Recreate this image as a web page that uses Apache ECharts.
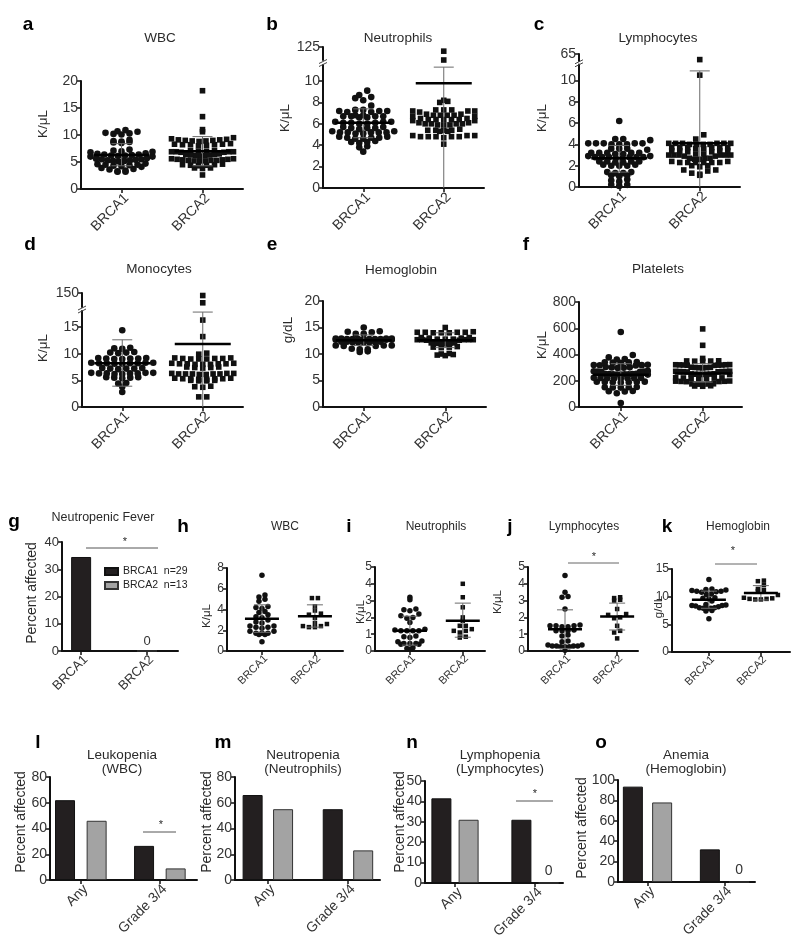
<!DOCTYPE html>
<html><head><meta charset="utf-8">
<script src="https://cdn.jsdelivr.net/npm/echarts@6/dist/echarts.min.js"></script>
<style>html,body{margin:0;padding:0;background:#fff}#c{width:800px;height:945px}</style>
</head><body><div id="c"></div>
<script>
// ---------------- DATA ----------------
const categories = ['BRCA1', 'BRCA2'];
const toxCategories = ['Any', 'Grade 3/4'];

// a: WBC (K/uL)
const wbc_brca1 = [10.9,10.7,10.6,10.4,10.3,10.1,10.2, 9.1,8.9,8.7,8.6,8.5,8.8, 7.3,7.1,7.0,6.9,6.8,
  6.6,6.5,6.4,6.4,6.3,6.2,6.2,6.1,6.0,6.0, 5.7,5.6,5.5,5.5,5.4,5.3,5.3,5.2,5.2,5.1,
  4.7,4.6,4.5,4.5,4.4,4.3,4.2,4.1, 3.9,3.7,3.6,3.4,3.3,3.2,3.2];
const wbc_brca2 = [18.2,13.4,11.0,10.6,9.5, 9.2,9.1,9.0,9.0,8.9,8.8,8.9,9.1,9.3, 8.3,8.2,8.2,8.1,8.0,8.3,8.4,8.2,
  7.1,7.0,6.9,6.9,6.8,6.9,7.0,7.1,6.8,6.9, 6.4,6.3,6.2,6.3,6.4,6.2,6.1,6.5,
  5.6,5.5,5.4,5.3,5.3,5.2,5.2,5.3,5.4,5.5,5.6,5.2, 4.6,4.5,4.4,4.4,4.3,4.5, 3.9,3.8,3.9, 2.6];
const wbc_mean = [6.3, 7.0];
const wbc_sd = [[4.3, 8.4], [4.3, 9.7]];

// b: Neutrophils
const neut_brca1 = [9.1,8.7,8.5,8.4,8.2,7.7, 7.3,7.2,7.2,7.1,7.2,7.3,7.1, 6.8,6.7,6.7,6.6,6.7,6.8,6.6,6.7,
  6.2,6.1,6.0,6.1,6.2,6.0,6.1,6.2, 5.6,5.7,5.5,5.6,5.7,5.6, 5.2,5.2,5.1,5.3,5.2,5.1,5.2,5.3,5.2,
  4.8,4.7,4.6,4.7,4.8,4.6,4.7, 4.3,4.3,4.2,4.4, 3.9,3.8, 3.4];
const neut_brca2 = [117,100, 8.2,8.1,8.0, 7.3,7.3,7.2,7.2,7.1,7.3,7.2, 6.9,6.8,6.8,6.7,6.8,6.9,6.7,6.8,
  6.4,6.5,6.4,6.3,6.4,6.5,6.4,6.3,6.4, 6.0,6.1,6.0,5.9,6.0,6.1,5.9,6.0,5.9, 5.4,5.3,5.4,5.5,5.4,5.3,5.4,
  4.9,4.8,4.8,4.9,4.8,4.7,4.9,4.8,4.8, 4.1];
const neut_mean = [6.1, 9.8];
const neut_sd = [[4.7, 7.4], [0, 11.3]];

// c: Lymphocytes
const lymph_brca1 = [6.2,4.5,4.5,4.4, 4.1,4.1,4.0,4.1,4.0,4.1,4.0,4.1, 3.6,3.6,3.5,3.6, 3.2,3.2,3.1,3.2,3.1,3.2,3.2,
  2.8,2.8,2.9,2.8,2.7,2.8,2.9,2.8,2.7,2.8, 2.4,2.4,2.3,2.4,2.3,2.4, 2.0,2.0,2.1,2.0,2.1,
  1.4,1.3,1.3,1.4, 1.1,1.0,1.1, 0.7,0.6,0.5, 0.2,0.1,0.2];
const lymph_brca2 = [53,10.5,4.9,4.5, 4.1,4.1,4.0,4.1,4.0,4.1,4.0,4.1,4.1,4.0, 3.7,3.7,3.6,3.7,3.7,3.6,3.7,3.7,
  3.4,3.3,3.4,3.4,3.3,3.4, 3.0,3.0,3.1,3.0,2.9,3.0,3.1,3.0,2.9,3.0, 2.7,2.6,2.7,2.6,2.7,
  2.3,2.3,2.4,2.3,2.3,2.4,2.3,2.3, 2.0,2.0,1.9, 1.6,1.5,1.6, 1.3,1.2, 1.1];
const lymph_mean = [2.7, 4.1];
const lymph_sd = [[1.4, 3.9], [0, 10.9]];

// d: Monocytes
const mono_brca1 = [14.4, 11.1,11.0,10.9, 10.3,10.2,10.2,10.1, 9.2,9.1,9.0,9.1,9.2,9.0,9.1,
  8.3,8.2,8.2,8.1,8.3,8.2,8.2,8.1,8.3, 7.3,7.2,7.2,7.1,7.3,7.2, 6.4,6.3,6.3,6.2,6.4,6.3,6.3,6.2,6.4,
  5.6,5.5,5.5,5.4,5.6, 4.5,4.4, 3.8, 2.8];
const mono_brca2 = [141,115,16.3,13.2,10.1,9.9, 9.2,9.1,9.0,9.1,9.2,9.0,9.1,9.0, 8.1,8.0,8.1,8.2,8.0,8.1,8.2,8.0,8.1,
  7.5,7.4,7.3,7.4,7.5, 6.3,6.2,6.2,6.1,6.3,6.2,6.1,6.2,6.3,6.2, 5.4,5.3,5.3,5.2,5.3,5.4,5.2,5.3,
  5.0,4.9,5.0,4.9, 3.8,3.9,3.7, 1.9,1.9];
const mono_mean = [8.2, 11.8];
const mono_sd = [[3.9, 12.6], [0, 17.8]];

// e: Hemoglobin (g/dL)
const hgb_brca1 = [15.0,14.3,14.2,14.1,13.8,13.8, 12.9,12.8,12.9,12.8,12.7,12.8,12.9,12.8,12.7,12.8,12.9,12.8,12.7,12.8,
  12.3,12.2,12.3,12.2,12.3,12.2,12.3,12.2, 11.6,11.5,11.6,11.5,11.6, 10.9,10.9,11.0, 10.5,10.4];
const hgb_brca2 = [15.0,14.1,14.1,14.0,14.1,14.0,14.1,14.2,14.0, 13.0,13.1,13.0,13.1,
  12.7,12.8,12.7,12.6,12.7,12.8,12.7,12.6,12.8,12.7, 12.0,12.1,12.0,11.9,12.0,12.1,
  11.3,11.4,11.3,11.2, 10.0,9.9,10.1, 9.8,9.7];
const hgb_mean = [12.6, 12.6];
const hgb_sd = [[11.6, 13.6], [11.2, 14.0]];

// f: Platelets
const plt_brca1 = [572,396,378,365,362, 340,342,338,336,341, 318,320,316,319,322, 300,302,298,301,305,
  272,270,268,275,271,269, 252,250,248,251,249,253,247,250,252,248, 222,220,218,221,219,223,217,220,
  192,190,188,191,189,193,187, 152,150,148,151,149, 122,120,118, 105, 30];
const plt_brca2 = [595,470,370, 352,350,348,351,349, 322,320,318,321,319,323,317,320,322, 302,300,298,301,299,303,
  272,270,268,271,269,273,267,270, 252,250,248,251,249,253,247,250, 222,220,218,221,219,223,217,
  197,195,193,196,194,198, 177,175,173,176,174, 162,160,158];
const plt_mean = [245, 255];
const plt_sd = [[165, 330], [190, 330]];

// g: Neutropenic fever (%)
const fever_pct = [34.5, 0];
const fever_n = [29, 13];

// h-k: on-treatment nadir values
const txwbc_brca1 = [7.3,5.4,5.2,5.0,4.8,4.3,4.2,4.1,3.8,3.7,3.5,3.3,3.2,3.0,2.8,2.7,2.4,2.4,2.3,2.3,2.2,1.9,1.9,1.7,1.7,1.7,1.6,1.6,0.9];
const txwbc_brca2 = [5.1,5.1,4.3,3.9,3.6,3.5,3.2,2.7,2.6,2.4,2.4,2.3,2.3];
const txwbc_mean = [3.1, 3.35];
const txwbc_sd = [[1.8, 4.45], [2.3, 4.45]];

const txneut_brca1 = [3.2,3.05,2.5,2.45,2.4,2.2,2.1,2.0,1.95,1.7,1.3,1.25,1.2,1.2,1.2,1.2,0.9,0.85,0.8,0.6,0.55,0.45,0.45,0.45,0.4,0.4,0.2,0.15,0.1];
const txneut_brca2 = [4.0,3.2,2.6,2.0,1.8,1.5,1.5,1.3,1.2,1.2,1.1,0.85,0.8];
const txneut_mean = [1.2, 1.8];
const txneut_sd = [[0.35, 2.07], [0.82, 2.85]];

const txlymph_brca1 = [4.5,3.5,3.25,3.2,2.5,1.55,1.5,1.5,1.5,1.45,1.45,1.25,1.2,1.2,1.2,0.95,0.9,0.6,0.55,0.35,0.35,0.3,0.3,0.3,0.3,0.25,0.25,0.25,0.05];
const txlymph_brca2 = [3.2,3.15,3.05,3.0,2.5,2.2,2.15,2.0,1.95,1.5,1.2,1.1,0.75];
const txlymph_mean = [1.3, 2.05];
const txlymph_sd = [[0.15, 2.45], [1.25, 2.85]];

const txhgb_brca1 = [13.1,11.4,11.3,11.2,11.1,11.0,11.0,10.9,10.8,10.5,10.4,9.8,9.7,9.6,9.2,8.6,8.5,8.4,8.4,8.3,8.2,8.0,8.0,7.9,7.9,7.8,7.5,7.4,6.0];
const txhgb_brca2 = [12.9,12.8,12.1,11.4,11.2,11.0,10.3,9.8,9.7,9.6,9.6,9.5,9.5];
const txhgb_mean = [9.45, 10.65];
const txhgb_sd = [[7.9, 11.0], [9.4, 12.0]];

// l-o: percent affected
const leuk_brca1 = [62, 26.5];
const leuk_brca2 = [46, 9];
const neutro_brca1 = [66, 55];
const neutro_brca2 = [55, 23];
const lympho_brca1 = [41.5, 31];
const lympho_brca2 = [31, 0];
const anemia_brca1 = [93.5, 32];
const anemia_brca2 = [78, 0];

// ---------------- BUILD ----------------
const FONT = "'Liberation Sans', Arial, Helvetica, sans-serif";
const grids = [], xAxes = [], yAxes = [], series = [], graphics = [];
const BLACK = '#231f20', GRAY = '#a3a3a3';

function addGrid(g) { grids.push({left: g.left, top: g.top, width: g.width, height: g.height}); return grids.length - 1; }
function txt(x, y, s, size, o) {
  o = o || {};
  graphics.push({type: 'text', x: x, y: y, rotation: o.rot || 0, z: 100, silent: true,
    style: {text: s, fill: o.color || '#2a2a2a', font: (o.bold ? 'bold ' : '') + size + 'px ' + FONT,
      textAlign: o.align || 'center', textVerticalAlign: 'middle', align: o.align || 'center', verticalAlign: 'middle'}});
}
function vtxt(x, y, s, size) { txt(x, y, s, size, {rot: Math.PI / 2}); }
function ln(x1, y1, x2, y2, color, w) {
  graphics.push({type: 'line', z: 100, silent: true, shape: {x1: x1, y1: y1, x2: x2, y2: y2}, style: {stroke: color, lineWidth: w}});
}
function yAxisCfg(gi, min, max, ticks, fs) {
  return {gridIndex: gi, type: 'value', min: min, max: max,
    axisLine: {show: true, onZero: false, lineStyle: {color: '#111', width: 2}},
    axisTick: {show: true, inside: false, length: 4, customValues: ticks, lineStyle: {color: '#111', width: 1.5}},
    axisLabel: {show: true, customValues: ticks, fontSize: fs, color: '#333', fontFamily: FONT, margin: 3},
    splitLine: {show: false}};
}
function xAxisCfg(gi, min, max, labels, fs) {
  return {gridIndex: gi, type: 'value', min: min, max: max,
    axisLine: {show: true, onZero: false, lineStyle: {color: '#111', width: 2}},
    axisTick: {show: true, length: 4, customValues: [0, 1], lineStyle: {color: '#111', width: 1.5}},
    axisLabel: {customValues: [0, 1], formatter: function (v) { return labels[Math.round(v)]; }, rotate: 45,
      verticalAlign: 'top', fontSize: fs, color: '#333', fontFamily: FONT, margin: 2},
    splitLine: {show: false}};
}
// GraphPad-like column scatter layout: values binned into pixel rows, each row spread
// symmetrically about the category, lowest values in the middle (smile rows).
function columnScatter(values, center, ppuX, ppuY, rowH, sx, maxW) {
  const bins = {};
  values.slice().sort(function (a, b) { return a - b; }).forEach(function (v) {
    const b = Math.round(v * ppuY / rowH);
    (bins[b] = bins[b] || []).push(v);
  });
  const out = [];
  Object.keys(bins).forEach(function (b) {
    const arr = bins[b], n = arr.length;
    const s = n > 1 ? Math.min(sx, maxW / (n - 1)) : 0;
    const slots = [];
    for (let i = 0; i < n; i++) slots.push((i - (n - 1) / 2) * s);
    slots.sort(function (a, c) { return Math.abs(a) - Math.abs(c) || a - c; });
    arr.forEach(function (v, i) { out.push([center + slots[i] / ppuX, v]); });
  });
  return out;
}
function meanSdSeries(xi, yi, means, sds, meanW, capW) {
  return {type: 'custom', xAxisIndex: xi, yAxisIndex: yi, z: 5, silent: true,
    data: means.map(function (m, i) { return [i, m, sds[i][0], sds[i][1]]; }),
    encode: {x: 0, y: [1, 2, 3]},
    renderItem: function (params, api) {
      const x = api.value(0), m = api.value(1), lo = api.value(2), hi = api.value(3);
      const pm = api.coord([x, m]), pl = api.coord([x, lo]), ph = api.coord([x, hi]);
      const st = {stroke: '#6a6a6a', lineWidth: 1};
      const ch = [
        {type: 'line', shape: {x1: pl[0], y1: pl[1], x2: ph[0], y2: ph[1]}, style: st},
        {type: 'line', shape: {x1: ph[0] - capW / 2, y1: ph[1], x2: ph[0] + capW / 2, y2: ph[1]}, style: st}
      ];
      if (lo > 0) ch.push({type: 'line', shape: {x1: pl[0] - capW / 2, y1: pl[1], x2: pl[0] + capW / 2, y2: pl[1]}, style: st});
      ch.push({type: 'line', shape: {x1: pm[0] - meanW / 2, y1: pm[1], x2: pm[0] + meanW / 2, y2: pm[1]}, style: {stroke: '#000', lineWidth: 2.5}});
      return {type: 'group', children: ch};
    }};
}
function dotPanel(p) {
  const gi = addGrid(p.grid);
  xAxes.push(xAxisCfg(gi, p.x[0], p.x[1], categories, p.catFs));
  const xi = xAxes.length - 1;
  yAxes.push(yAxisCfg(gi, p.y[0], p.y[1], p.ticks, p.fs));
  const yi = yAxes.length - 1;
  const ppuX = p.grid.width / (p.x[1] - p.x[0]);
  const ppuY = p.grid.height / (p.y[1] - p.y[0]);
  let uxi, uyi, uppuY;
  if (p.upper) {
    const ug = addGrid({left: p.grid.left, top: p.upper.top, width: p.grid.width, height: p.upper.height});
    const ux = xAxisCfg(ug, p.x[0], p.x[1], categories, p.catFs); ux.show = false;
    xAxes.push(ux); uxi = xAxes.length - 1;
    yAxes.push(yAxisCfg(ug, p.upper.y[0], p.upper.y[1], [p.upper.y[1]], p.fs)); uyi = yAxes.length - 1;
    uppuY = p.upper.height / (p.upper.y[1] - p.upper.y[0]);
    const bx = p.grid.left, by = (p.upper.top + p.upper.height + p.grid.top) / 2;
    ln(bx - 4, by + 1, bx + 4, by - 3, '#444', 1);
    ln(bx - 4, by + 4, bx + 4, by, '#444', 1);
  }
  p.groups.forEach(function (vals, k) {
    const low = vals.filter(function (v) { return v <= p.y[1]; });
    const high = vals.filter(function (v) { return v > p.y[1]; });
    const base = {type: 'scatter', symbol: k ? 'rect' : 'circle', symbolSize: k ? p.sym - 1 : p.sym,
      itemStyle: {color: '#111', opacity: 1}, silent: true, z: 2};
    series.push(Object.assign({name: p.id + ' ' + categories[k], xAxisIndex: xi, yAxisIndex: yi,
      data: columnScatter(low, k, ppuX, ppuY, p.rowH, p.sx, p.maxW)}, base));
    if (high.length) series.push(Object.assign({name: p.id + ' ' + categories[k] + ' hi', xAxisIndex: uxi, yAxisIndex: uyi,
      data: columnScatter(high, k, ppuX, uppuY, p.rowH, p.sx, p.maxW)}, base));
  });
  series.push(meanSdSeries(xi, yi, p.mean, p.sd, p.meanW, p.capW));
  txt(p.title[0], p.title[1], p.title[2], p.titleFs);
  txt(p.letter[0], p.letter[1], p.letter[2], 19, {bold: true, color: '#000'});
  vtxt(p.yname[0], p.yname[1], p.yname[2], p.nameFs);
}

const TOP = {x: [-0.5, 1.5], fs: 14, catFs: 14, sym: 6.6, rowH: 5, sx: 8, maxW: 62, meanW: 56, capW: 20, titleFs: 13.5, nameFs: 13.5};
dotPanel(Object.assign({}, TOP, {id: 'a', grid: {left: 81, top: 81, width: 162, height: 108}, y: [0, 20], ticks: [0, 5, 10, 15, 20],
  groups: [wbc_brca1, wbc_brca2], mean: wbc_mean, sd: wbc_sd,
  title: [160, 38, 'WBC'], letter: [28, 25, 'a'], yname: [43, 124, 'K/μL']}));
dotPanel(Object.assign({}, TOP, {id: 'b', grid: {left: 323, top: 65, width: 161, height: 123}, y: [0, 11.5], ticks: [0, 2, 4, 6, 8, 10],
  upper: {top: 47, height: 13, y: [100, 125]},
  groups: [neut_brca1, neut_brca2], mean: neut_mean, sd: neut_sd,
  title: [398, 38, 'Neutrophils'], letter: [272, 25, 'b'], yname: [285, 118, 'K/μL']}));
dotPanel(Object.assign({}, TOP, {id: 'c', grid: {left: 579, top: 64.5, width: 161, height: 122.5}, y: [0, 11.5], ticks: [0, 2, 4, 6, 8, 10],
  upper: {top: 54, height: 7, y: [50, 65]},
  groups: [lymph_brca1, lymph_brca2], mean: lymph_mean, sd: lymph_sd,
  title: [658, 38, 'Lymphocytes'], letter: [539, 25, 'c'], yname: [542, 118, 'K/μL']}));
dotPanel(Object.assign({}, TOP, {id: 'd', grid: {left: 82, top: 311, width: 161, height: 96}, y: [0, 18], ticks: [0, 5, 10, 15],
  upper: {top: 293, height: 14, y: [100, 150]},
  groups: [mono_brca1, mono_brca2], mean: mono_mean, sd: mono_sd,
  title: [159, 269, 'Monocytes'], letter: [30, 245, 'd'], yname: [43, 348, 'K/μL']}));
dotPanel(Object.assign({}, TOP, {id: 'e', grid: {left: 323, top: 301, width: 163, height: 106}, y: [0, 20], ticks: [0, 5, 10, 15, 20],
  groups: [hgb_brca1, hgb_brca2], mean: hgb_mean, sd: hgb_sd, maxW: 56,
  title: [401, 270, 'Hemoglobin'], letter: [272, 245, 'e'], yname: [288, 330, 'g/dL']}));
dotPanel(Object.assign({}, TOP, {id: 'f', grid: {left: 579, top: 302, width: 163, height: 105}, x: [-0.51, 1.48], y: [0, 800], ticks: [0, 200, 400, 600, 800],
  groups: [plt_brca1, plt_brca2], mean: plt_mean, sd: plt_sd, maxW: 54,
  title: [658, 269, 'Platelets'], letter: [526, 245, 'f'], yname: [542, 345, 'K/μL']}));

const MID = {fs: 12, catFs: 11, sym: 5.5, rowH: 5, sx: 6, maxW: 34, meanW: 34, capW: 16, titleFs: 12, nameFs: 11.5};
dotPanel(Object.assign({}, MID, {id: 'h', grid: {left: 227, top: 568, width: 116, height: 83}, x: [-0.66, 1.53], y: [0, 8], ticks: [0, 2, 4, 6, 8],
  groups: [txwbc_brca1, txwbc_brca2], mean: txwbc_mean, sd: txwbc_sd,
  title: [285, 527, 'WBC'], letter: [183, 527, 'h'], yname: [207, 616, 'K/μL']}));
dotPanel(Object.assign({}, MID, {id: 'i', grid: {left: 375, top: 567, width: 110, height: 84}, x: [-0.66, 1.42], y: [0, 5], ticks: [0, 1, 2, 3, 4, 5],
  groups: [txneut_brca1, txneut_brca2], mean: txneut_mean, sd: txneut_sd,
  title: [436, 527, 'Neutrophils'], letter: [349, 527, 'i'], yname: [361, 612, 'K/μL']}));
dotPanel(Object.assign({}, MID, {id: 'j', grid: {left: 528, top: 567, width: 110, height: 84}, x: [-0.71, 1.4], y: [0, 5], ticks: [0, 1, 2, 3, 4, 5],
  groups: [txlymph_brca1, txlymph_brca2], mean: txlymph_mean, sd: txlymph_sd,
  title: [584, 527, 'Lymphocytes'], letter: [510, 527, 'j'], yname: [498, 602, 'K/μL']}));
dotPanel(Object.assign({}, MID, {id: 'k', grid: {left: 672, top: 569, width: 118, height: 83}, x: [-0.71, 1.56], y: [0, 15], ticks: [0, 5, 10, 15],
  groups: [txhgb_brca1, txhgb_brca2], mean: txhgb_mean, sd: txhgb_sd,
  title: [738, 527, 'Hemoglobin'], letter: [667, 527, 'k'], yname: [659, 607, 'g/dL']}));

// significance brackets (h-k row)
ln(568, 563, 619, 563, '#666', 1); txt(594, 557, '*', 11);
ln(715, 564, 757, 564, '#666', 1); txt(733, 551, '*', 11);

// g: neutropenic fever bars
(function () {
  const gi = addGrid({left: 62, top: 542, width: 116, height: 109});
  xAxes.push(xAxisCfg(gi, -0.29, 1.47, categories, 13));
  const xi = xAxes.length - 1;
  yAxes.push(yAxisCfg(gi, 0, 40, [0, 10, 20, 30, 40], 13));
  const yi = yAxes.length - 1;
  series.push({name: 'BRCA1', type: 'bar', xAxisIndex: xi, yAxisIndex: yi, barWidth: 20, barGap: '-100%',
    itemStyle: {color: BLACK, borderColor: '#111', borderWidth: 1}, data: [[0, fever_pct[0]]]});
  series.push({name: 'BRCA2', type: 'bar', xAxisIndex: xi, yAxisIndex: yi, barWidth: 20, barGap: '-100%',
    itemStyle: {color: GRAY, borderColor: '#333', borderWidth: 1}, data: [[1, fever_pct[1]]],
    label: {show: true, position: 'top', distance: 3, fontSize: 13, color: '#333', fontFamily: FONT,
      formatter: function (p) { return p.value[1] === 0 ? '0' : ''; }}});
  txt(103, 518, 'Neutropenic Fever', 12.5);
  txt(14, 522, 'g', 19, {bold: true, color: '#000'});
  vtxt(32, 593, 'Percent affected', 14);
  ln(86, 548, 158, 548, '#555', 1); txt(125, 542, '*', 11);
})();

// l-o bar panels
function barPanel(p) {
  const gi = addGrid(p.grid);
  xAxes.push(xAxisCfg(gi, p.x[0], p.x[1], toxCategories, 14));
  const xi = xAxes.length - 1;
  yAxes.push(yAxisCfg(gi, 0, p.ymax, p.ticks, 14));
  const yi = yAxes.length - 1;
  series.push({name: p.id + ' BRCA1', type: 'bar', xAxisIndex: xi, yAxisIndex: yi, barWidth: 20, barGap: '-100%',
    itemStyle: {color: BLACK, borderColor: '#111', borderWidth: 1},
    data: p.v1.map(function (v, i) { return [i - p.off, v]; })});
  series.push({name: p.id + ' BRCA2', type: 'bar', xAxisIndex: xi, yAxisIndex: yi, barWidth: 20, barGap: '-100%',
    itemStyle: {color: GRAY, borderColor: '#333', borderWidth: 1},
    data: p.v2.map(function (v, i) { return [i + p.off, v]; }),
    label: {show: true, position: 'top', distance: 4, fontSize: 14, color: '#333', fontFamily: FONT,
      formatter: function (q) { return q.value[1] === 0 ? '0' : ''; }}});
  txt(p.tx, 755, p.t1, 13.5);
  txt(p.tx, 769, p.t2, 13.5);
  txt(p.lx, 743, p.letter, 19, {bold: true, color: '#000'});
  vtxt(p.nx, p.ny, 'Percent affected', 14);
}
barPanel({id: 'l', grid: {left: 50, top: 777, width: 147, height: 103}, x: [-0.39, 1.47], off: 0.2, ymax: 80, ticks: [0, 20, 40, 60, 80],
  v1: leuk_brca1, v2: leuk_brca2, tx: 122, t1: 'Leukopenia', t2: '(WBC)', lx: 38, letter: 'l', nx: 21, ny: 822});
barPanel({id: 'm', grid: {left: 235, top: 777, width: 145, height: 103}, x: [-0.41, 1.40], off: 0.19, ymax: 80, ticks: [0, 20, 40, 60, 80],
  v1: neutro_brca1, v2: neutro_brca2, tx: 303, t1: 'Neutropenia', t2: '(Neutrophils)', lx: 223, letter: 'm', nx: 207, ny: 822});
barPanel({id: 'n', grid: {left: 425, top: 781, width: 138, height: 102}, x: [-0.375, 1.35], off: 0.17, ymax: 50, ticks: [0, 10, 20, 30, 40, 50],
  v1: lympho_brca1, v2: lympho_brca2, tx: 500, t1: 'Lymphopenia', t2: '(Lymphocytes)', lx: 412, letter: 'n', nx: 400, ny: 822});
barPanel({id: 'o', grid: {left: 618, top: 780, width: 137, height: 102}, x: [-0.383, 1.396], off: 0.19, ymax: 100, ticks: [0, 20, 40, 60, 80, 100],
  v1: anemia_brca1, v2: anemia_brca2, tx: 686, t1: 'Anemia', t2: '(Hemoglobin)', lx: 601, letter: 'o', nx: 582, ny: 828});
ln(143, 832, 176, 832, '#555', 1); txt(161, 825, '*', 11);
ln(516, 801, 553, 801, '#555', 1); txt(535, 794, '*', 11);

const chart = echarts.init(document.getElementById('c'), null, {renderer: 'canvas'});
chart.setOption({
  animation: false,
  backgroundColor: '#fff',
  textStyle: {fontFamily: FONT},
  grid: grids, xAxis: xAxes, yAxis: yAxes, series: series,
  legend: {show: true, data: ['BRCA1', 'BRCA2'], left: 99, top: 561, orient: 'vertical', icon: 'rect',
    itemWidth: 13, itemHeight: 7, itemGap: 3, selectedMode: false,
    formatter: function (n) { return n + '  n=' + fever_n[categories.indexOf(n)]; },
    textStyle: {fontSize: 10.5, color: '#222', fontFamily: FONT}},
  graphic: {elements: graphics}
});
</script></body></html>
